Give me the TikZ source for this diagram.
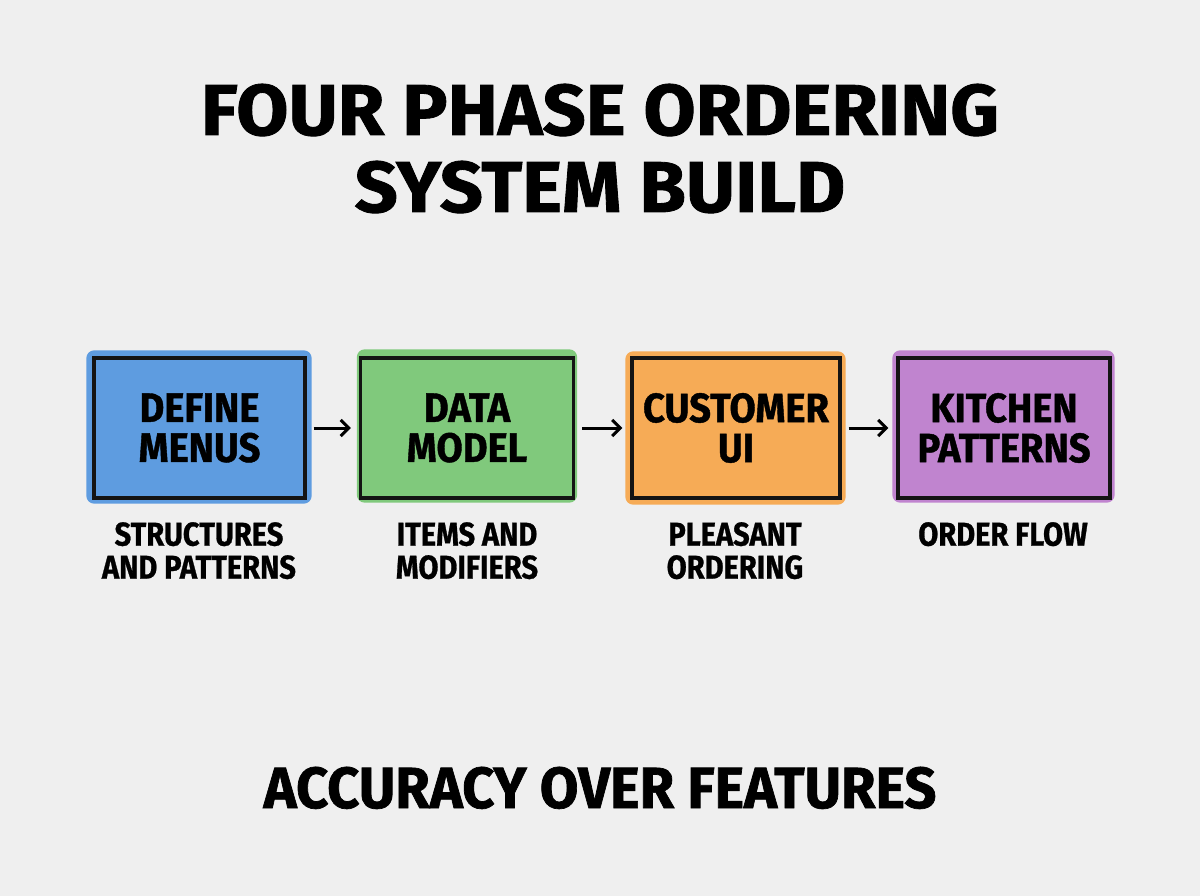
\documentclass[tikz,border=0pt]{standalone}
\usepackage{fontspec}
\setmainfont{Fira Sans}
\newfontfamily\titlefont{Fira Sans}[FakeStretch=1.05,FakeBold=1.2]
\newfontfamily\footfont{Fira Sans}[FakeStretch=0.965,FakeBold=1.2]
\newfontfamily\boxfont{Fira Sans}[FakeStretch=0.93,FakeBold=1]
\newfontfamily\lblfont{Fira Sans}[FakeStretch=0.88,FakeBold=0.8]
\usetikzlibrary{arrows.meta,backgrounds}
\definecolor{bg}{HTML}{EFEFEF}
\definecolor{cblue}{HTML}{5E9CE0}
\definecolor{cgreen}{HTML}{80C97C}
\definecolor{corange}{HTML}{F6AB56}
\definecolor{cpurple}{HTML}{C084CF}
\tikzset{
  phase/.style={draw=black!92, line width=3.4pt, minimum height=140pt, inner sep=0pt,
    align=center, font=\boxfont\bfseries\fontsize{41}{40}\selectfont},
  sub/.style={anchor=north, align=center, inner sep=0pt,
    font=\lblfont\bfseries\fontsize{33}{33}\selectfont},
  flow/.style={-{Straight Barb[length=8pt,width=16pt,line width=3pt]}, line width=3pt, shorten <=7pt, shorten >=8pt},
  ttl/.style={align=center, inner sep=0pt, font=\titlefont\bfseries\fontsize{72}{77}\selectfont}
}
\begin{document}
\begin{tikzpicture}[x=1pt,y=-1pt]
\useasboundingbox (0,0) rectangle (1200,896);
\node[ttl, anchor=base] (t1) at (600,135) {FOUR PHASE ORDERING};
\node[ttl, anchor=base] (t2) at (600,212) {SYSTEM BUILD};
\node[phase, minimum width=211pt] (b1) at (199.5,428) {DEFINE\\MENUS};
\node[phase, minimum width=213pt] (b2) at (467,428) {DATA\\MODEL};
\node[phase, minimum width=208pt] (b3) at (736,428) {CUSTOMER\\UI};
\node[phase, minimum width=212pt] (b4) at (1004,428) {KITCHEN\\PATTERNS};
\begin{scope}[on background layer]
\fill[bg] (0,0) rectangle (1200,896);
\fill[cblue, rounded corners=8pt] ([xshift=-6pt,yshift=6pt]b1.north west) rectangle ([xshift=5pt,yshift=-4pt]b1.south east);
\fill[cgreen, rounded corners=8pt] ([xshift=-2pt,yshift=7pt]b2.north west) rectangle ([xshift=2pt,yshift=-3pt]b2.south east);
\fill[corange, rounded corners=8pt] ([xshift=-5pt,yshift=5pt]b3.north west) rectangle ([xshift=4pt,yshift=-5pt]b3.south east);
\fill[cpurple, rounded corners=8pt] ([xshift=-4pt,yshift=6pt]b4.north west) rectangle ([xshift=3pt,yshift=-3pt]b4.south east);
\end{scope}
\draw[flow] (b1) -- (b2);
\draw[flow] (b2) -- (b3);
\draw[flow] (b3) -- (b4);
\node[sub] (s1) at (199,522) {STRUCTURES\\AND PATTERNS};
\node[sub] (s2) at (467,522) {ITEMS AND\\MODIFIERS};
\node[sub] (s3) at (735,522) {PLEASANT\\ORDERING};
\node[sub] (s4) at (1003,522) {ORDER FLOW};
\node[anchor=base, inner sep=0pt, font=\footfont\bfseries\fontsize{58}{58}\selectfont] (f) at (600,808) {ACCURACY OVER FEATURES};
\end{tikzpicture}
\end{document}
